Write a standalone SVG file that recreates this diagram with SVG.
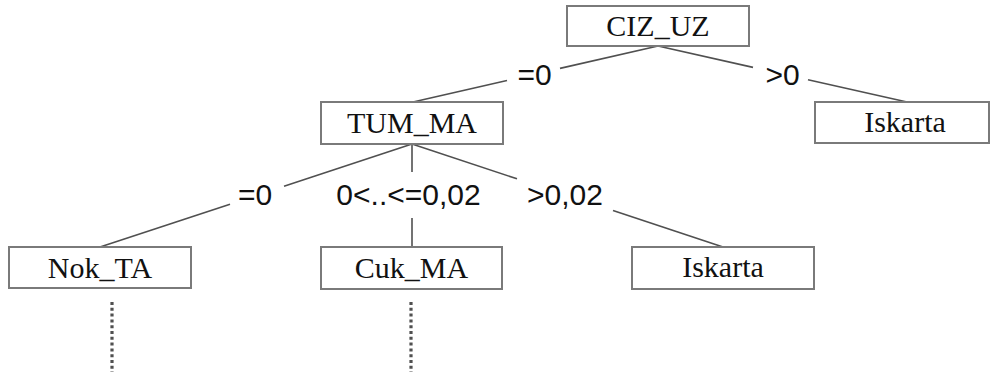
<svg xmlns="http://www.w3.org/2000/svg" width="990" height="374" viewBox="0 0 990 374">
  <style>
    .box { fill: #ffffff; stroke: #7a7a7a; stroke-width: 2; }
    .name { font-family: "Liberation Serif", "Times New Roman", serif; font-size: 30px; fill: #111; text-anchor: middle; }
    .edge { stroke: #505050; stroke-width: 1.6; fill: none; }
    .more { stroke: #505050; stroke-width: 3.2; stroke-dasharray: 3 2.8; fill: none; }
    .cond { font-family: "Liberation Sans", Arial, sans-serif; font-size: 30px; fill: #111; text-anchor: middle; }
  </style>
  <rect width="990" height="374" fill="#ffffff"/>

  <!-- branches, each broken around its condition label -->
  <g id="connectors">
    <line class="edge" x1="658" y1="46" x2="560" y2="68.4"/>
    <line class="edge" x1="507" y1="80.5" x2="413" y2="102"/>
    <text class="cond" x="534.5" y="85">=0</text>

    <line class="edge" x1="658" y1="46" x2="753" y2="67.4"/>
    <line class="edge" x1="808" y1="79.7" x2="907" y2="102"/>
    <text class="cond" x="782.5" y="85">&gt;0</text>

    <line class="edge" x1="412" y1="144" x2="284" y2="186.3"/>
    <line class="edge" x1="230" y1="204.2" x2="100" y2="247"/>
    <text class="cond" x="255" y="205">=0</text>

    <line class="edge" x1="412" y1="144" x2="412" y2="172"/>
    <line class="edge" x1="412" y1="218" x2="412" y2="247"/>
    <text class="cond" x="408.5" y="205">0&lt;..&lt;=0,02</text>

    <line class="edge" x1="412" y1="144" x2="517" y2="178.8"/>
    <line class="edge" x1="613" y1="210.6" x2="723" y2="247"/>
    <text class="cond" x="565" y="205">&gt;0,02</text>

    <!-- subtrees continue below -->
    <line class="more" x1="112" y1="302" x2="112" y2="372"/>
    <line class="more" x1="411" y1="302" x2="411" y2="372"/>
  </g>

  <g id="ciz_uz">
    <rect class="box" x="567" y="6" width="182" height="40"/>
    <text class="name" x="658" y="36">CIZ_UZ</text>
  </g>

  <g id="tum_ma">
    <rect class="box" x="321" y="102" width="182" height="42"/>
    <text class="name" x="412" y="133">TUM_MA</text>
  </g>

  <g id="iskarta_top">
    <rect class="box" x="815" y="102" width="174" height="41"/>
    <text class="name" x="905" y="132">Iskarta</text>
  </g>

  <g id="nok_ta">
    <rect class="box" x="9" y="247" width="182" height="41"/>
    <text class="name" x="100" y="278">Nok_TA</text>
  </g>

  <g id="cuk_ma">
    <rect class="box" x="321" y="247" width="181" height="42"/>
    <text class="name" x="411.5" y="278">Cuk_MA</text>
  </g>

  <g id="iskarta_low">
    <rect class="box" x="632" y="247" width="182" height="42"/>
    <text class="name" x="723" y="277">Iskarta</text>
  </g>
</svg>
